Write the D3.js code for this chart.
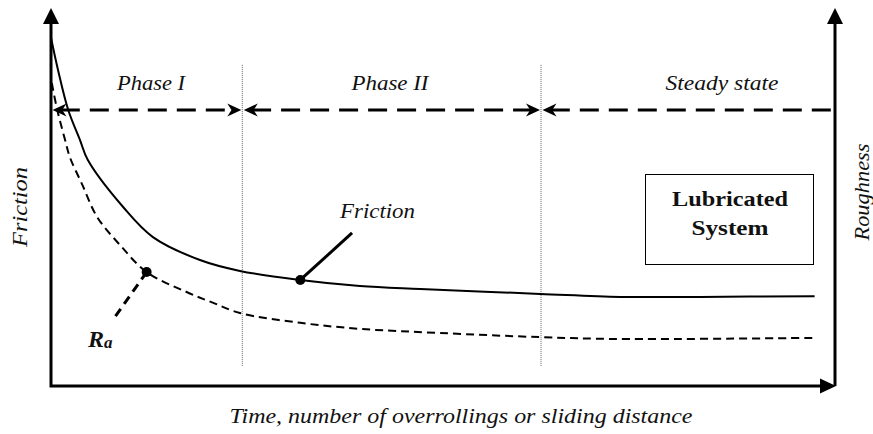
<!DOCTYPE html>
<html>
<head>
<meta charset="utf-8">
<script src="https://cdn.jsdelivr.net/npm/d3@7"></script>
<style>
  html, body { margin: 0; padding: 0; background: #fff; }
  svg { display: block; }
  text { font-family: "Liberation Serif", "Times New Roman", serif; fill: #111; }
</style>
</head>
<body>
<script>
// friction curve (solid)
const frictionX = [0, 0.9, 2.2, 3.7, 4.7, 9.2, 13.0, 19.0, 24.1, 31.8, 39.4, 47.1, 62.4, 72.6, 82.8, 97.4];
const frictionY = [92.6, 84.0, 73.4, 65.4, 60.1, 47.6, 39.6, 33.5, 30.6, 28.2, 26.6, 25.8, 24.5, 23.7, 23.7, 23.9];

// roughness Ra curve (dashed)
const roughX = [0.1, 0.8, 1.8, 2.4, 4.0, 5.9, 8.8, 12.2, 17.3, 20.7, 24.1, 31.8, 39.4, 49.6, 62.4, 72.6, 97.4];
const roughY = [80.6, 73.4, 65.4, 60.9, 53.5, 44.9, 37.5, 30.3, 25.0, 22.1, 19.4, 16.8, 15.2, 14.1, 13.0, 12.5, 12.8];

// phase boundaries and labels
const phaseBounds = [0, 24.4, 62.5, 100];
const phaseNames = ["Phase I", "Phase II", "Steady state"];
const phaseLevel = 73.4;

// callouts: marker on curve -> end of leader line
const frictionMark = { x: 31.8, y: 28.2, toX: 38.4, toY: 40.7 };
const roughMark = { x: 12.2, y: 30.3, toX: 7.8, toY: 17.3 };

const width = 873, height = 434;
const x = d3.scaleLinear().domain([0, 100]).range([51, 835]);
const y = d3.scaleLinear().domain([0, 100]).range([386, 10]);

const svg = d3.select("body").append("svg")
  .attr("width", width)
  .attr("height", height);

// arrowhead helper, tip at (px,py), pointing along angle (deg)
function arrow(px, py, angle, len, half, barb) {
  const notch = barb ? len * 0.7 : len;
  svg.append("path")
    .attr("d", `M0,0 L${-len},${-half} L${-notch},0 L${-len},${half} Z`)
    .attr("transform", `translate(${px},${py}) rotate(${angle})`)
    .attr("fill", "#000");
}

// axes
svg.append("path")
  .attr("d", `M${x(0)},24 V${y(0)} H820`)
  .attr("fill", "none").attr("stroke", "#000").attr("stroke-width", 3);
svg.append("path")
  .attr("d", `M${x(100)},${y(0)} V24`)
  .attr("fill", "none").attr("stroke", "#000").attr("stroke-width", 3);
arrow(x(0), 8, -90, 16, 8, false);
arrow(x(100), 8, -90, 16, 8, false);
arrow(836, y(0), 0, 16, 7.5, false);

// dotted phase boundaries
svg.selectAll(".bound")
  .data(phaseBounds.slice(1, 3))
  .enter().append("line")
  .attr("class", "bound")
  .attr("x1", d => x(d)).attr("x2", d => x(d))
  .attr("y1", y(85.4)).attr("y2", y(5.1))
  .attr("stroke", "#666").attr("stroke-width", 1)
  .attr("stroke-dasharray", "1,1");

// dashed phase arrows
const ya = y(phaseLevel);
const aLen = 14;
phaseBounds.slice(0, 3).forEach((b, i) => {
  const x0 = x(b), x1 = x(phaseBounds[i + 1]);
  const lastSeg = i === 2;
  svg.append("line")
    .attr("x1", x0 + aLen * 0.7).attr("x2", lastSeg ? x1 : x1 - aLen * 0.7)
    .attr("y1", ya).attr("y2", ya)
    .attr("stroke", "#000").attr("stroke-width", 3)
    .attr("stroke-dasharray", "19,10");
  arrow(x0 + 1.5, ya, 180, aLen, 6.5, true);
  if (!lastSeg) arrow(x1 - 1, ya, 0, aLen, 6.5, true);
});

svg.selectAll(".phase")
  .data(phaseNames)
  .enter().append("text")
  .attr("class", "phase")
  .attr("x", (d, i) => [151, 390, 722][i])
  .attr("y", 90)
  .attr("text-anchor", "middle")
  .attr("font-style", "italic")
  .attr("font-size", 22)
  .attr("textLength", (d, i) => [68, 77, 113][i])
  .attr("lengthAdjust", "spacingAndGlyphs")
  .text(d => d);

// curves
const line = d3.line().x(d => x(d[0])).y(d => y(d[1])).curve(d3.curveCatmullRom.alpha(0.5));

svg.append("path")
  .datum(d3.zip(frictionX, frictionY))
  .attr("d", line)
  .attr("fill", "none").attr("stroke", "#000").attr("stroke-width", 2);

svg.append("path")
  .datum(d3.zip(roughX, roughY))
  .attr("d", line)
  .attr("fill", "none").attr("stroke", "#000").attr("stroke-width", 2)
  .attr("stroke-dasharray", "8,5");

// callouts
svg.append("line")
  .attr("x1", x(frictionMark.x)).attr("y1", y(frictionMark.y))
  .attr("x2", x(frictionMark.toX)).attr("y2", y(frictionMark.toY))
  .attr("stroke", "#000").attr("stroke-width", 3);
svg.append("line")
  .attr("x1", x(roughMark.x)).attr("y1", y(roughMark.y))
  .attr("x2", x(roughMark.toX)).attr("y2", y(roughMark.toY))
  .attr("stroke", "#000").attr("stroke-width", 3)
  .attr("stroke-dasharray", "9,6");
svg.selectAll(".mark")
  .data([frictionMark, roughMark])
  .enter().append("circle")
  .attr("cx", d => x(d.x)).attr("cy", d => y(d.y))
  .attr("r", 5).attr("fill", "#000");

svg.append("text")
  .attr("x", 340).attr("y", 218)
  .attr("font-style", "italic").attr("font-size", 22)
  .attr("textLength", 75).attr("lengthAdjust", "spacingAndGlyphs")
  .text("Friction");

const ra = svg.append("text")
  .attr("x", 88).attr("y", 347)
  .attr("font-style", "italic").attr("font-weight", "bold").attr("font-size", 24);
ra.append("tspan").text("R");
ra.append("tspan").attr("font-size", 17).attr("dy", 1).text("a");

// legend box
svg.append("rect")
  .attr("x", 645.5).attr("y", 174.5)
  .attr("width", 168).attr("height", 90)
  .attr("fill", "none").attr("stroke", "#000").attr("stroke-width", 1);
svg.append("text")
  .attr("x", 730).attr("y", 206)
  .attr("text-anchor", "middle").attr("font-weight", "bold").attr("font-size", 22)
  .attr("textLength", 116).attr("lengthAdjust", "spacingAndGlyphs")
  .text("Lubricated");
svg.append("text")
  .attr("x", 730).attr("y", 235)
  .attr("text-anchor", "middle").attr("font-weight", "bold").attr("font-size", 22)
  .attr("textLength", 77).attr("lengthAdjust", "spacingAndGlyphs")
  .text("System");

// axis titles
svg.append("text")
  .attr("transform", "translate(27,207) rotate(-90)")
  .attr("text-anchor", "middle")
  .attr("font-style", "italic").attr("font-size", 22)
  .attr("textLength", 80).attr("lengthAdjust", "spacingAndGlyphs")
  .text("Friction");
svg.append("text")
  .attr("transform", "translate(869,192) rotate(-90)")
  .attr("text-anchor", "middle")
  .attr("font-style", "italic").attr("font-size", 22)
  .attr("textLength", 97).attr("lengthAdjust", "spacingAndGlyphs")
  .text("Roughness");
svg.append("text")
  .attr("x", 461).attr("y", 423)
  .attr("text-anchor", "middle")
  .attr("font-style", "italic").attr("font-size", 22)
  .attr("textLength", 463).attr("lengthAdjust", "spacingAndGlyphs")
  .text("Time, number of overrollings or sliding distance");
</script>
</body>
</html>
